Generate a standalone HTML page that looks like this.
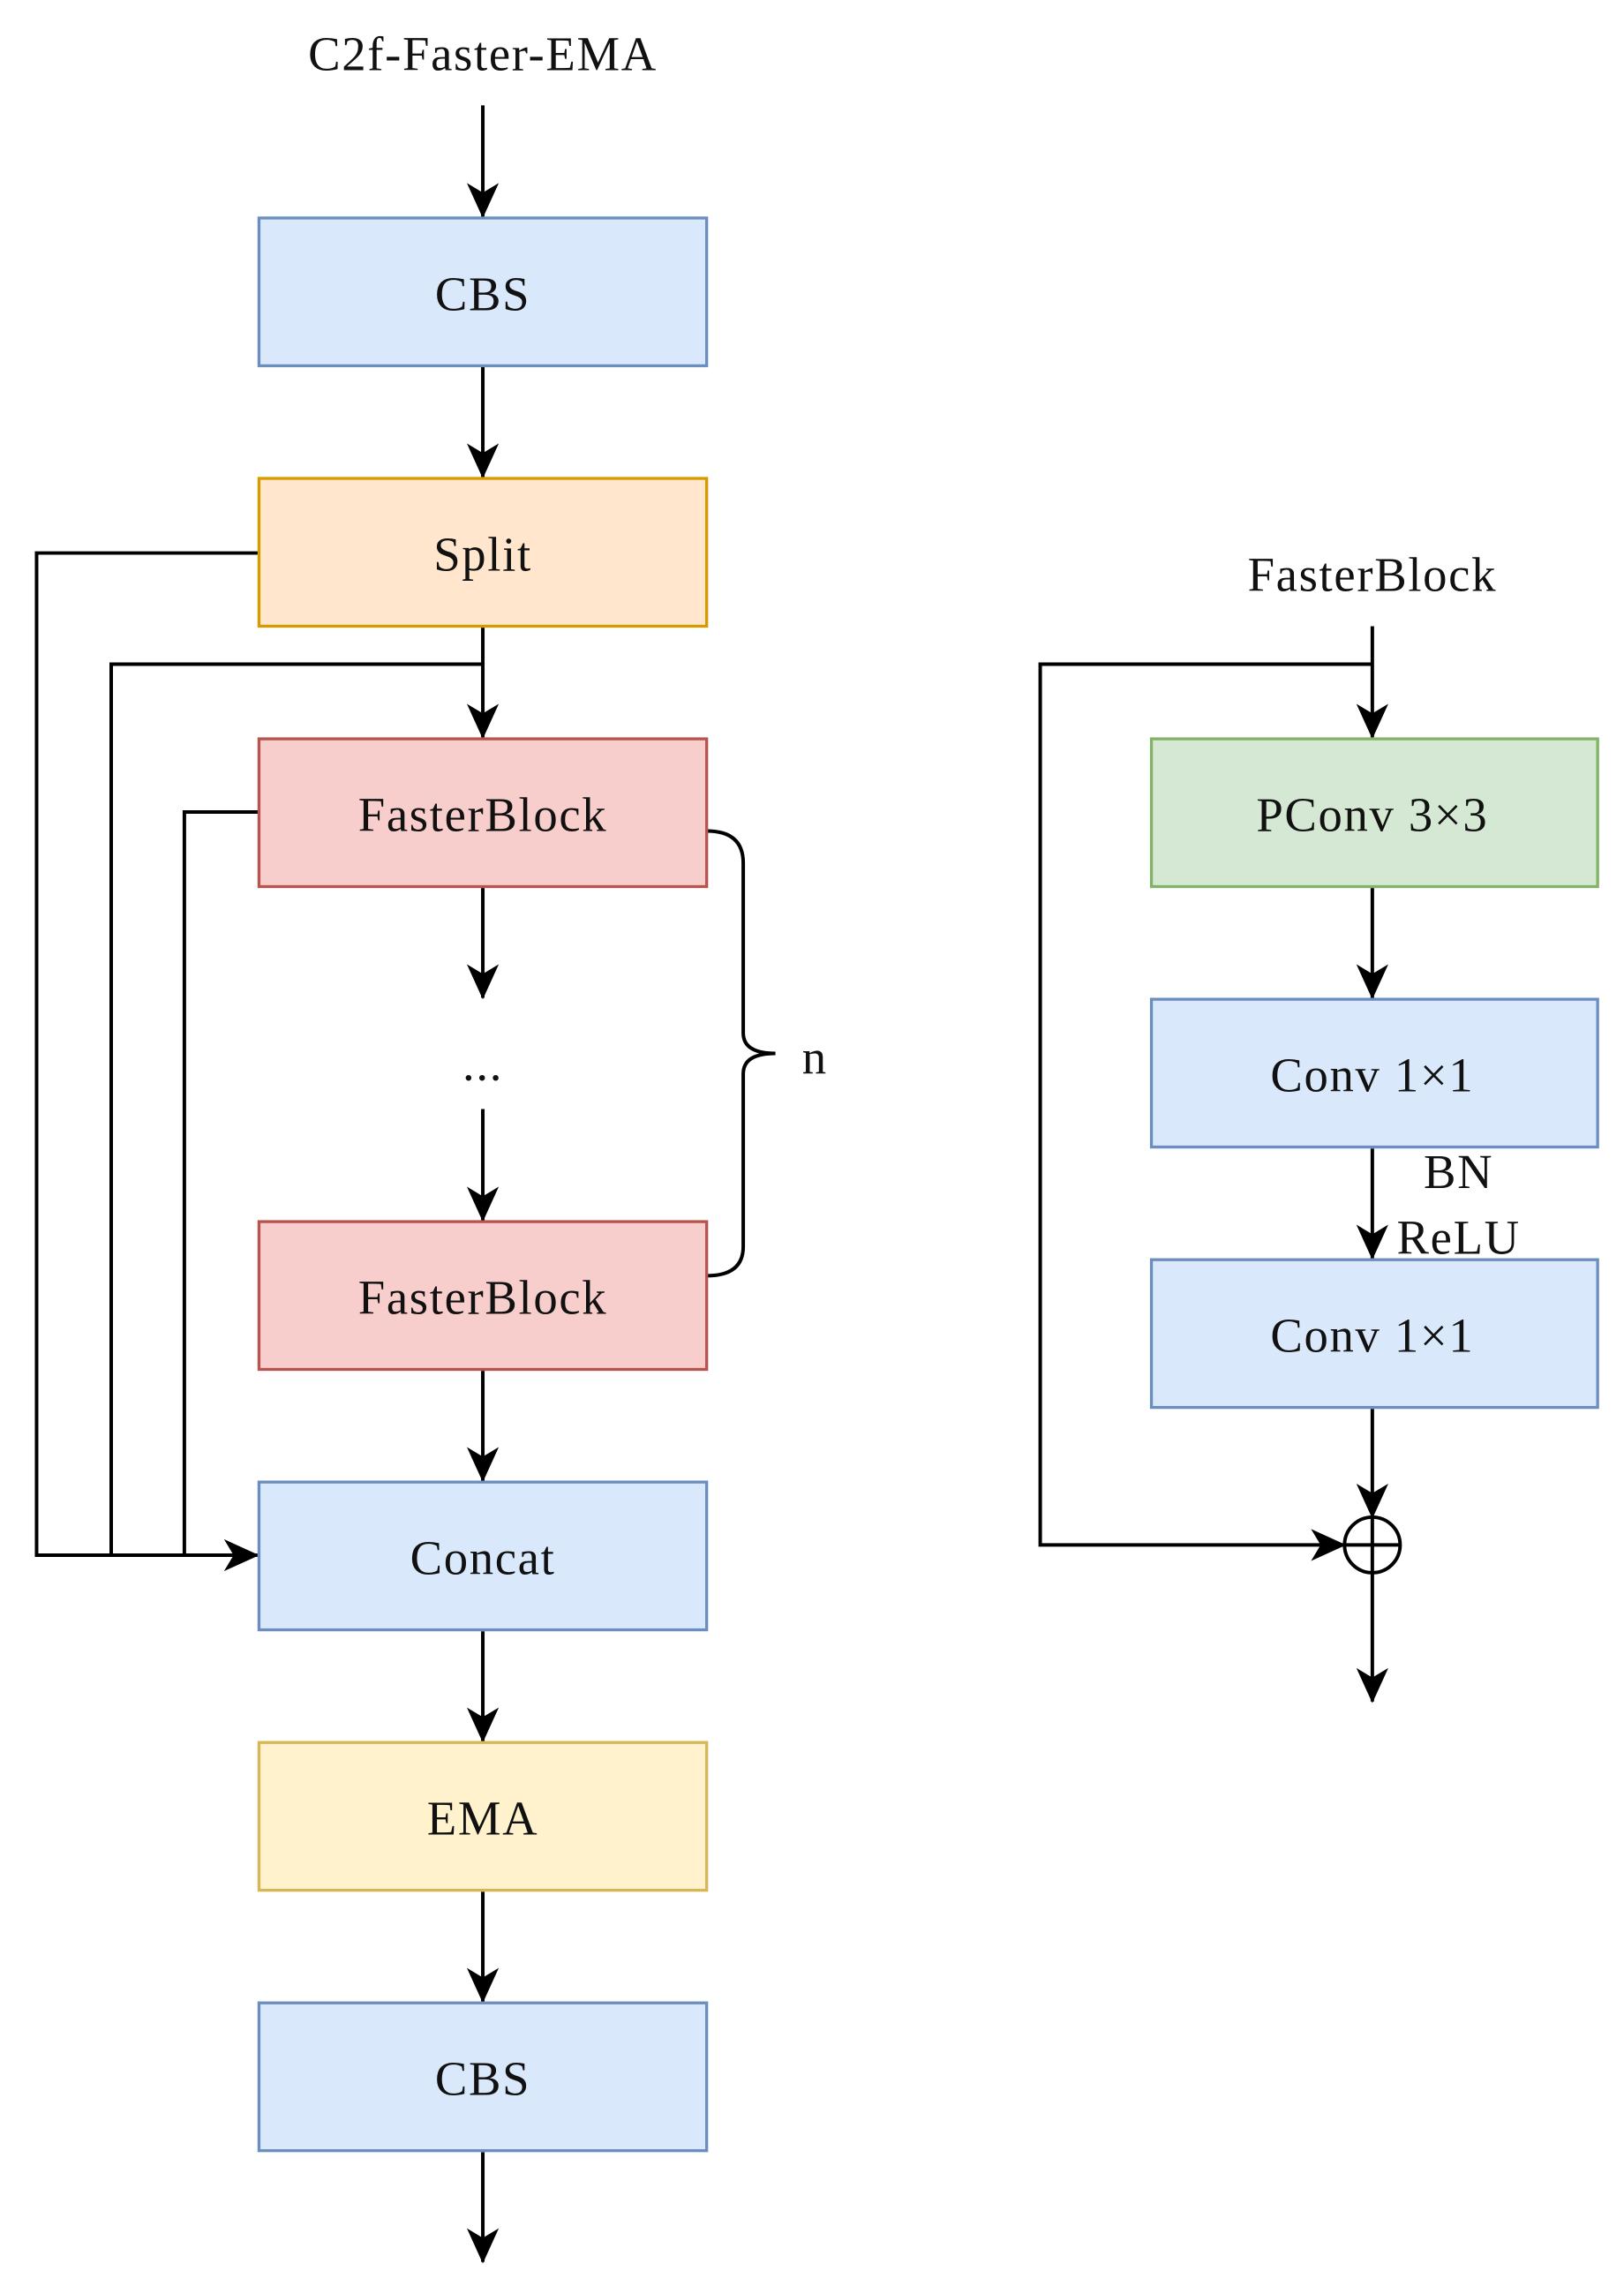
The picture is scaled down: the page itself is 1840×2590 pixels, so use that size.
<!DOCTYPE html>
<html><head><meta charset="utf-8"><style>
html,body{margin:0;padding:0;background:#fff;}
svg{display:block;}
text{font-family:"Liberation Serif",serif;font-size:33px;fill:#111;letter-spacing:1px;}
</style></head><body>
<svg width="1840" height="2590" viewBox="0 0 1110 1562.5" xmlns="http://www.w3.org/2000/svg">
<defs>
<marker id="a" markerWidth="24" markerHeight="24" refX="21" refY="10" orient="auto" markerUnits="userSpaceOnUse" viewBox="0 0 22 20">
<path d="M0,0 L22,10 L0,20 L6,10 Z" fill="#000"/>
</marker>
</defs>
<g stroke="#000" stroke-width="2.4" fill="none">
<line x1="330" y1="72" x2="330" y2="148" marker-end="url(#a)"/>
<line x1="330" y1="251" x2="330" y2="326" marker-end="url(#a)"/>
<line x1="330" y1="429" x2="330" y2="504" marker-end="url(#a)"/>
<line x1="330" y1="607" x2="330" y2="682" marker-end="url(#a)"/>
<line x1="330" y1="758" x2="330" y2="834" marker-end="url(#a)"/>
<line x1="330" y1="937" x2="330" y2="1012" marker-end="url(#a)"/>
<line x1="330" y1="1115" x2="330" y2="1190" marker-end="url(#a)"/>
<line x1="330" y1="1293" x2="330" y2="1368" marker-end="url(#a)"/>
<line x1="330" y1="1471" x2="330" y2="1546" marker-end="url(#a)"/>
<polyline points="177,378 25,378 25,1063 176,1063" marker-end="url(#a)"/>
<polyline points="330,454 76,454 76,1063"/>
<polyline points="177,555 126,555 126,1063"/>
<path d="M483,568 Q508,568 508,590 L508,706 Q508,720 530,720 Q508,720 508,734 L508,852 Q508,872 483,872"/>
<line x1="938" y1="428" x2="938" y2="504" marker-end="url(#a)"/>
<polyline points="938,454 711,454 711,1056 919,1056" marker-end="url(#a)"/>
<line x1="938" y1="607" x2="938" y2="682" marker-end="url(#a)"/>
<line x1="938" y1="785" x2="938" y2="860" marker-end="url(#a)"/>
<line x1="938" y1="963" x2="938" y2="1037" marker-end="url(#a)"/>
<circle cx="938" cy="1056" r="19"/>
<line x1="919" y1="1056" x2="957" y2="1056"/>
<line x1="938" y1="1037" x2="938" y2="1163" marker-end="url(#a)"/>
</g>
<g stroke-width="2">
<rect x="177" y="149" width="306" height="101" fill="#dae8fc" stroke="#6c8ebf"/>
<rect x="177" y="327" width="306" height="101" fill="#ffe6cc" stroke="#d79b00"/>
<rect x="177" y="505" width="306" height="101" fill="#f8cecc" stroke="#b85450"/>
<rect x="177" y="835" width="306" height="101" fill="#f8cecc" stroke="#b85450"/>
<rect x="177" y="1013" width="306" height="101" fill="#dae8fc" stroke="#6c8ebf"/>
<rect x="177" y="1191" width="306" height="101" fill="#fff2cc" stroke="#d6b656"/>
<rect x="177" y="1369" width="306" height="101" fill="#dae8fc" stroke="#6c8ebf"/>
<rect x="787" y="505" width="305" height="101" fill="#d5e8d4" stroke="#82b366"/>
<rect x="787" y="683" width="305" height="101" fill="#dae8fc" stroke="#6c8ebf"/>
<rect x="787" y="861" width="305" height="101" fill="#dae8fc" stroke="#6c8ebf"/>
</g>
<g text-anchor="middle">
<text x="330" y="48">C2f-Faster-EMA</text>
<text x="330" y="212">CBS</text>
<text x="330" y="390">Split</text>
<text x="330" y="568">FasterBlock</text>
<text x="330" y="738">...</text>
<text x="330" y="898">FasterBlock</text>
<text x="330" y="1076">Concat</text>
<text x="330" y="1254">EMA</text>
<text x="330" y="1432">CBS</text>
<text x="557" y="734">n</text>
<text x="938" y="404">FasterBlock</text>
<text x="938" y="568">PConv 3×3</text>
<text x="938" y="746">Conv 1×1</text>
<text x="938" y="924">Conv 1×1</text>
<text x="997" y="812">BN</text>
<text x="997" y="857">ReLU</text>
</g>
</svg>
</body></html>
